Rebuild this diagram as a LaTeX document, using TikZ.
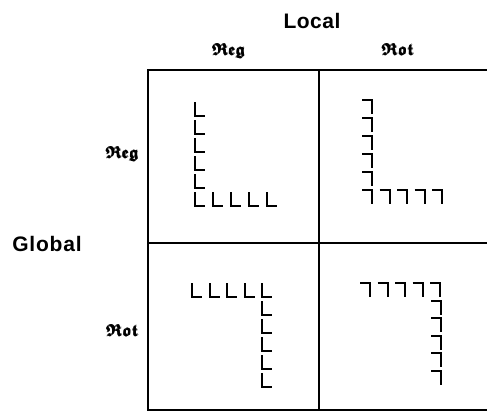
\documentclass[tikz,border=0pt]{standalone}
\usepackage{amsmath,amssymb}
\usepackage{fontspec}
\setmainfont{Liberation Sans}
\tikzset{
  glyph/.style={line width=2pt, line cap=butt, line join=miter},
  Lg/.pic={\draw[glyph] (0,0) -- (0,14) -- (10,14);},
  Rg/.pic={\draw[glyph] (-10,0) -- (0,0) -- (0,14);},
  gridline/.style={line width=1.6pt},
  bigtitle/.style={font=\bfseries\fontsize{21}{24}\selectfont, anchor=base, inner sep=0pt},
  smalltitle/.style={font=\fontsize{16}{19}\selectfont, anchor=base, inner sep=0pt}
}
\newcommand{\frk}[1]{$\pmb{\boldsymbol{\mathfrak{#1}}}$}
\begin{document}
\begin{tikzpicture}[x=1pt,y=-1pt]
\useasboundingbox (0,0) rectangle (487,415);
\clip (0,0) rectangle (487,415);
% grid
\draw[gridline] (500,70) -- (148,70) -- (148,410) -- (500,410);
\draw[gridline] (319,70) -- (319,410);
\draw[gridline] (148,243) -- (500,243);
% labels
\node[bigtitle] (local) at (312,28) {L\kern0.5pt o\kern0.5pt c\kern0.5pt a\kern0.5pt l};
\node[bigtitle] (global) at (47,251.5) {G\kern0.8pt l\kern0.8pt o\kern0.8pt b\kern0.8pt a\kern0.8pt l};
\node[smalltitle] (creg) at (229,55) {\frk{Reg}};
\node[smalltitle] (crot) at (398,55) {\frk{Rot}};
\node[smalltitle] (rreg) at (122.5,158) {\frk{Reg}};
\node[smalltitle] (rrot) at (122.5,336) {\frk{Rot}};
% top-left
\foreach \k in {0,...,4} \pic at (195,102+18*\k) {Lg};
\foreach \k in {0,...,4} \pic at (195+18*\k,192) {Lg};
% top-right
\foreach \k in {0,...,4} \pic at (372,100+18*\k) {Rg};
\foreach \k in {0,...,4} \pic at (372+17.5*\k,190) {Rg};
% bottom-left
\foreach \k in {0,...,4} \pic at (192+17.5*\k,283) {Lg};
\foreach \k in {1,...,5} \pic at (262,283+18*\k) {Lg};
% bottom-right
\foreach \k in {0,...,4} \pic at (370+17.5*\k,283) {Rg};
\foreach \k in {1,...,5} \pic at (441,283+17.5*\k) {Rg};
\end{tikzpicture}
\end{document}
